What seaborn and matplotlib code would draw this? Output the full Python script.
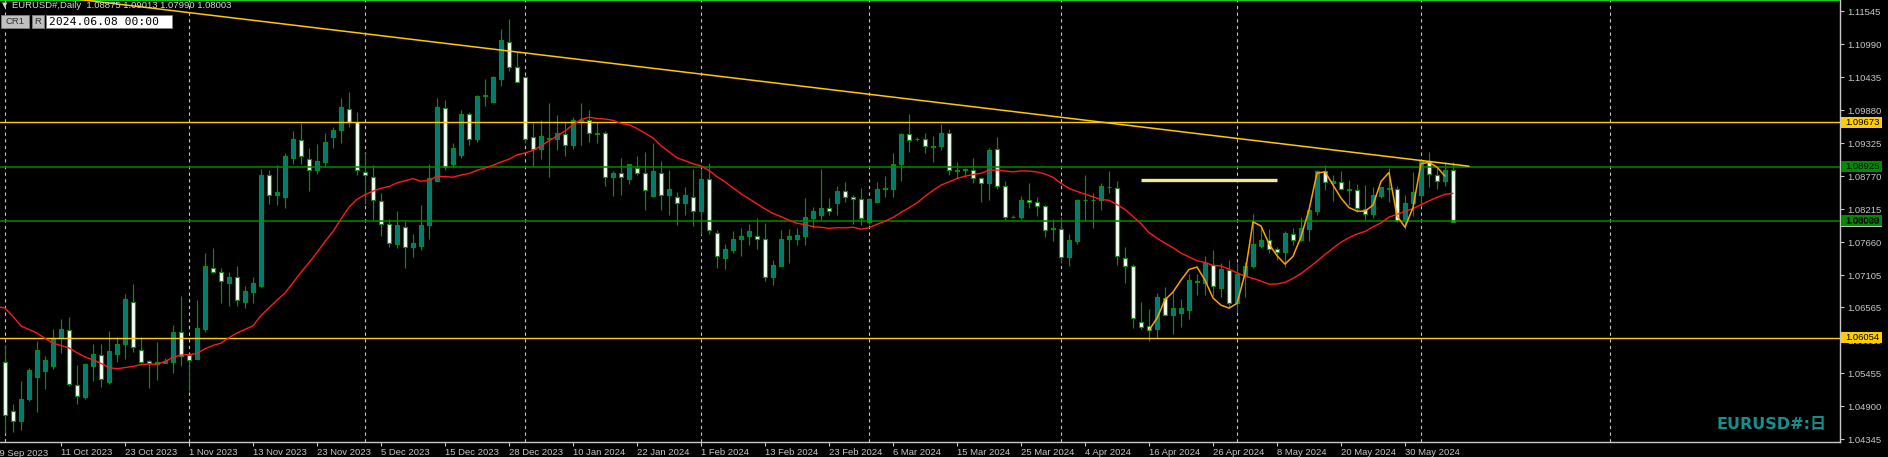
import matplotlib
matplotlib.use('Agg')
import matplotlib.pyplot as plt
import matplotlib.transforms as mtransforms
from matplotlib.patches import Rectangle
import numpy as np
import pandas as pd
import seaborn as sns

# EURUSD daily, 29 Sep 2023 .. 7 Jun 2024 (bar index 0..182, MT4 incl. sunday bars)
opens = [1.0567, 1.0565, 1.0482, 1.0466, 1.0502, 1.0540, 1.0550, 1.0557, 1.0604, 1.0619,
         1.0525, 1.0506, 1.0558, 1.0576, 1.0531, 1.0578, 1.0594, 1.0665, 1.0584, 1.0566,
         1.0561, 1.0562, 1.0565, 1.0614, 1.0576, 1.0569, 1.0620, 1.0722, 1.0715, 1.0698,
         1.0708, 1.0665, 1.0682, 1.0693, 1.0878, 1.0846, 1.0841, 1.0908, 1.0937, 1.0906,
         1.0888, 1.0901, 1.0943, 1.0954, 1.0989, 1.0968, 1.0883, 1.0875, 1.0835, 1.0796,
         1.0762, 1.0791, 1.0758, 1.0760, 1.0794, 1.0869, 1.0991, 1.0898, 1.0913, 1.0981,
         1.0939, 1.1011, 1.1002, 1.1041, 1.1102, 1.1061, 1.1043, 1.0942, 1.0922, 1.0940,
         1.0940, 1.0948, 1.0930, 1.0969, 1.0972, 1.0947, 1.0949, 1.0875, 1.0882, 1.0872,
         1.0890, 1.0882, 1.0844, 1.0882, 1.0846, 1.0841, 1.0831, 1.0841, 1.0818, 1.0872,
         1.0782, 1.0740, 1.0752, 1.0771, 1.0777, 1.0776, 1.0771, 1.0708, 1.0725, 1.0772,
         1.0772, 1.0777, 1.0807, 1.0812, 1.0823, 1.0831, 1.0852, 1.0841, 1.0838, 1.0799,
         1.0833, 1.0855, 1.0856, 1.0898, 1.0947, 1.0940, 1.0940, 1.0926, 1.0927, 1.0949,
         1.0887, 1.0888, 1.0888, 1.0873, 1.0866, 1.0922, 1.0861, 1.0808, 1.0808, 1.0836,
         1.0833, 1.0826, 1.0788, 1.0788, 1.0741, 1.0768, 1.0836, 1.0837, 1.0836, 1.0858,
         1.0857, 1.0740, 1.0726, 1.0631, 1.0625, 1.0620, 1.0672, 1.0643, 1.0647, 1.0651,
         1.0700, 1.0698, 1.0728, 1.0688, 1.0719, 1.0664, 1.0709, 1.0725, 1.0760, 1.0769,
         1.0754, 1.0749, 1.0779, 1.0769, 1.0788, 1.0819, 1.0885, 1.0866, 1.0867, 1.0853,
         1.0853, 1.0822, 1.0814, 1.0844, 1.0856, 1.0856, 1.0801, 1.0831, 1.0846, 1.0903,
         1.0878, 1.0868, 1.08875]
highs = [1.0609, 1.0593, 1.0494, 1.0533, 1.0554, 1.0600, 1.0575, 1.0620, 1.0636, 1.0640,
         1.0559, 1.0563, 1.0595, 1.0595, 1.0617, 1.0607, 1.0679, 1.0696, 1.0607, 1.0567,
         1.0598, 1.0571, 1.0626, 1.0675, 1.0576, 1.0669, 1.0748, 1.0756, 1.0723, 1.0715,
         1.0726, 1.0693, 1.0707, 1.0889, 1.0887, 1.0896, 1.0915, 1.0953, 1.0967, 1.0924,
         1.0931, 1.0949, 1.0959, 1.1009, 1.1018, 1.0985, 1.0915, 1.0896, 1.0848, 1.0804,
         1.0819, 1.0802, 1.0779, 1.0828, 1.0897, 1.1009, 1.1005, 1.0932, 1.0988, 1.0984,
         1.1013, 1.1040, 1.1045, 1.1124, 1.1141, 1.1085, 1.1046, 1.0966, 1.0972, 1.0999,
         1.0980, 1.0968, 1.0976, 1.0999, 1.0988, 1.0968, 1.0952, 1.0886, 1.0907, 1.0898,
         1.0911, 1.0917, 1.0933, 1.0902, 1.0887, 1.0850, 1.0859, 1.0889, 1.0889, 1.0899,
         1.0786, 1.0763, 1.0785, 1.0790, 1.0796, 1.0806, 1.0798, 1.0736, 1.0786, 1.0788,
         1.0790, 1.0840, 1.0825, 1.0889, 1.0840, 1.0860, 1.0867, 1.0846, 1.0857, 1.0840,
         1.0867, 1.0877, 1.0915, 1.0949, 1.0982, 1.0943, 1.0949, 1.0944, 1.0965, 1.0956,
         1.0901, 1.0890, 1.0907, 1.0876, 1.0925, 1.0942, 1.0869, 1.0811, 1.0843, 1.0865,
         1.0841, 1.0828, 1.0805, 1.0809, 1.0780, 1.0838, 1.0878, 1.0848, 1.0865, 1.0886,
         1.0868, 1.0758, 1.0729, 1.0665, 1.0654, 1.0681, 1.0690, 1.0682, 1.0670, 1.0712,
         1.0713, 1.0742, 1.0753, 1.0730, 1.0736, 1.0730, 1.0733, 1.0813, 1.0792, 1.0788,
         1.0758, 1.0785, 1.0790, 1.0808, 1.0826, 1.0887, 1.0896, 1.0879, 1.0886, 1.0870,
         1.0864, 1.0862, 1.0858, 1.0859, 1.0890, 1.0860, 1.0845, 1.0883, 1.0905, 1.0917,
         1.0890, 1.0901, 1.09013]
lows = [1.0536, 1.0445, 1.0447, 1.0450, 1.0499, 1.0481, 1.0519, 1.0553, 1.0580, 1.0524,
        1.0494, 1.0503, 1.0533, 1.0523, 1.0527, 1.0565, 1.0569, 1.0582, 1.0563, 1.0521,
        1.0534, 1.0562, 1.0546, 1.0557, 1.0516, 1.0569, 1.0614, 1.0714, 1.0664, 1.0659,
        1.0659, 1.0656, 1.0664, 1.0691, 1.0830, 1.0828, 1.0824, 1.0898, 1.0898, 1.0852,
        1.0880, 1.0893, 1.0925, 1.0933, 1.0960, 1.0879, 1.0830, 1.0803, 1.0777, 1.0758,
        1.0756, 1.0723, 1.0741, 1.0753, 1.0771, 1.0869, 1.0887, 1.0891, 1.0907, 1.0930,
        1.0934, 1.0994, 1.1002, 1.1028, 1.1054, 1.1035, 1.0932, 1.0894, 1.0906, 1.0876,
        1.0921, 1.0910, 1.0923, 1.0929, 1.0935, 1.0933, 1.0861, 1.0844, 1.0846, 1.0864,
        1.0879, 1.0820, 1.0842, 1.0820, 1.0812, 1.0795, 1.0812, 1.0793, 1.0780, 1.0780,
        1.0723, 1.0721, 1.0748, 1.0742, 1.0761, 1.0755, 1.0700, 1.0694, 1.0725, 1.0731,
        1.0761, 1.0761, 1.0789, 1.0803, 1.0812, 1.0812, 1.0833, 1.0797, 1.0794, 1.0796,
        1.0833, 1.0841, 1.0842, 1.0868, 1.0918, 1.0936, 1.0915, 1.0901, 1.0920, 1.0878,
        1.0873, 1.0876, 1.0866, 1.0834, 1.0836, 1.0855, 1.0803, 1.0808, 1.0804, 1.0824,
        1.0810, 1.0775, 1.0768, 1.0730, 1.0725, 1.0763, 1.0802, 1.0790, 1.0820, 1.0848,
        1.0728, 1.0698, 1.0622, 1.0620, 1.0600, 1.0604, 1.0641, 1.0611, 1.0624, 1.0637,
        1.0677, 1.0677, 1.0675, 1.0674, 1.0655, 1.0649, 1.0674, 1.0722, 1.0756, 1.0747,
        1.0736, 1.0724, 1.0761, 1.0767, 1.0767, 1.0812, 1.0854, 1.0835, 1.0854, 1.0828,
        1.0817, 1.0803, 1.0806, 1.0840, 1.0834, 1.0799, 1.0788, 1.0810, 1.0827, 1.0859,
        1.0855, 1.0860, 1.07990]
closes = [1.0573, 1.0476, 1.0466, 1.0503, 1.0551, 1.0585, 1.0568, 1.0605, 1.0620, 1.0527,
          1.0508, 1.0561, 1.0578, 1.0536, 1.0583, 1.0595, 1.0670, 1.0589, 1.0565, 1.0562,
          1.0564, 1.0566, 1.0614, 1.0575, 1.0568, 1.0621, 1.0725, 1.0716, 1.0700, 1.0708,
          1.0668, 1.0684, 1.0697, 1.0879, 1.0846, 1.0851, 1.0910, 1.0940, 1.0910, 1.0888,
          1.0902, 1.0935, 1.0954, 1.0993, 1.0968, 1.0887, 1.0878, 1.0836, 1.0796, 1.0764,
          1.0794, 1.0757, 1.0764, 1.0794, 1.0873, 1.0993, 1.0893, 1.0924, 1.0981, 1.0939,
          1.1011, 1.1013, 1.1043, 1.1105, 1.1061, 1.1035, 1.0940, 1.0922, 1.0944, 1.0941,
          1.0950, 1.0930, 1.0972, 1.0972, 1.0949, 1.0950, 1.0875, 1.0882, 1.0875, 1.0897,
          1.0882, 1.0853, 1.0886, 1.0846, 1.0855, 1.0831, 1.0845, 1.0818, 1.0872, 1.0786,
          1.0742, 1.0754, 1.0771, 1.0777, 1.0784, 1.0772, 1.0708, 1.0727, 1.0772, 1.0776,
          1.0778, 1.0808, 1.0818, 1.0823, 1.0819, 1.0852, 1.0842, 1.0838, 1.0806, 1.0838,
          1.0856, 1.0857, 1.0898, 1.0947, 1.0937, 1.0940, 1.0927, 1.0927, 1.0949, 1.0887,
          1.0886, 1.0889, 1.0873, 1.0866, 1.0921, 1.0861, 1.0808, 1.0809, 1.0837, 1.0833,
          1.0826, 1.0787, 1.0789, 1.0741, 1.0770, 1.0837, 1.0837, 1.0836, 1.0860, 1.0859,
          1.0742, 1.0725, 1.0639, 1.0624, 1.0618, 1.0673, 1.0643, 1.0656, 1.0655, 1.0702,
          1.0699, 1.0730, 1.0692, 1.0720, 1.0664, 1.0712, 1.0725, 1.0762, 1.0769, 1.0754,
          1.0749, 1.0782, 1.0769, 1.0789, 1.0820, 1.0886, 1.0867, 1.0869, 1.0856, 1.0855,
          1.0823, 1.0814, 1.0845, 1.0858, 1.0857, 1.0801, 1.0831, 1.0850, 1.0903, 1.0880,
          1.0868, 1.0888, 1.08003]

# red MA (20) for the first bars (history before the window)
ma_head = [1.0658, 1.0655, 1.0641, 1.0625, 1.0619, 1.0613, 1.0604, 1.0596, 1.0592, 1.0588,
           1.0580, 1.0573, 1.0568, 1.0562, 1.0555, 1.0553, 1.0555, 1.0557, 1.0560]

# orange swing curve, bars 144..181
orange_start = 144
orange_vals = [1.0618, 1.0638, 1.0669, 1.0682, 1.0702, 1.0720, 1.0724, 1.0702, 1.0672, 1.0660,
               1.0655, 1.0663, 1.0713, 1.0800, 1.0793, 1.0763, 1.0743, 1.0729, 1.0742, 1.0775,
               1.0820, 1.0882, 1.0884, 1.0862, 1.0840, 1.0824, 1.0818, 1.0818, 1.0828, 1.0868,
               1.0883, 1.0810, 1.0791, 1.0824, 1.0898, 1.0900, 1.0892, 1.0877]

date_labels = ['29 Sep 2023', '11 Oct 2023', '23 Oct 2023', '1 Nov 2023', '13 Nov 2023',
               '23 Nov 2023', '5 Dec 2023', '15 Dec 2023', '28 Dec 2023', '10 Jan 2024',
               '22 Jan 2024', '1 Feb 2024', '13 Feb 2024', '23 Feb 2024', '6 Mar 2024',
               '15 Mar 2024', '25 Mar 2024', '4 Apr 2024', '16 Apr 2024', '26 Apr 2024',
               '8 May 2024', '20 May 2024', '30 May 2024']
price_ticks = [1.11545, 1.10990, 1.10435, 1.09880, 1.09325, 1.08770, 1.08215, 1.07660,
               1.07105, 1.06565, 1.06010, 1.05455, 1.04900, 1.04345]

gold_levels = [1.09673, 1.06054]
green_levels = [1.08925, 1.08020]
last_price = 1.08003
month_bars = [1, 24, 46, 66, 88, 109, 133, 155, 178, 201.6]
trend_x = [10, 184]
trend_y = [1.11744, 1.08935]
seg_x = [143, 160]
seg_y = 1.0870

W, H = 1888, 457


def fpos(x, y):
    return x / W, 1 - y / H


sns.set_theme(style='dark')
plt.rcParams['font.family'] = ['Liberation Sans', 'DejaVu Sans', 'Noto Sans CJK JP']

df = pd.DataFrame({'o': opens, 'h': highs, 'l': lows, 'c': closes})
df['i'] = np.arange(len(df))
df['bull'] = df['c'] >= df['o']
ma = df['c'].rolling(20).mean()
ma.iloc[:len(ma_head)] = ma_head
df['ma'] = ma

fig = plt.figure(figsize=(W / 100, H / 100), dpi=100, facecolor='black')
ax = fig.add_axes([0, 15 / H, 1840 / W, 442 / H])
ax.set_facecolor('black')

wick = '#0a8f0a'
for g in month_bars:
    ax.axvline(g, color='#c4c4c4', lw=0.8, ls=(0, (3, 3)), zorder=0.5)

ax.vlines(df['i'], df['l'], df['h'], color=wick, lw=0.85, zorder=2)
body_lo = df[['o', 'c']].min(axis=1)
body_h = (df['c'] - df['o']).abs()
fills = np.where(df['bull'], '#027878', '#ffffff')
ax.bar(df['i'], body_h, bottom=body_lo, width=0.58, color=fills,
       edgecolor=wick, linewidth=0.85, zorder=2.2)

for lv in gold_levels:
    ax.axhline(lv, color='#ffcc00', lw=1.0, zorder=3)
for lv in green_levels:
    ax.axhline(lv, color='#008a00', lw=1.1, zorder=3)
ax.axhline(1.11725, color='#1ec81e', lw=1.6, zorder=3)

ax.plot(trend_x, trend_y, color='#ffc800', lw=1.1, zorder=3.2)
ax.hlines(seg_y, seg_x[0], seg_x[1], color='#f2e9a0', lw=2.4, zorder=3.2)

sns.lineplot(x=df['i'], y=df['ma'], color='#ff1a1a', linewidth=1.0,
             estimator=None, ax=ax, zorder=3.5)
sns.lineplot(x=np.arange(orange_start, orange_start + len(orange_vals)), y=orange_vals,
             color='#ffa000', linewidth=1.1, estimator=None, ax=ax, zorder=3.6)

ax.set_xlim(0.375, 230.375)
ax.set_ylim(1.04299, 1.11730)
ax.set_xlabel('')
ax.set_ylabel('')
ax.grid(False)

ax.yaxis.tick_right()
ax.set_yticks(price_ticks)
ax.set_yticklabels([f'{v:.5f}' for v in price_ticks])
# the first date sits partly left of the chart edge, drawn separately below
ax.set_xticks(np.arange(8, 8 * len(date_labels), 8))
ax.set_xticklabels(date_labels[1:])
for lab in ax.get_xticklabels():
    lab.set_ha('left')
ax.tick_params(axis='y', which='both', right=True, left=False, length=3, width=0.8,
               color='#c8c8c8', labelcolor='#c8c8c8', labelsize=6.8, pad=2, direction='out')
ax.tick_params(axis='x', which='both', bottom=True, length=3, width=0.8,
               color='#c8c8c8', labelcolor='#c8c8c8', labelsize=6.8, pad=1.5, direction='out')
for side in ['top', 'left']:
    ax.spines[side].set_visible(False)
for side in ['bottom', 'right']:
    ax.spines[side].set_visible(True)
    ax.spines[side].set_color('#c8c8c8')
    ax.spines[side].set_linewidth(1.0)

fig.text(*fpos(-5.5, 449), date_labels[0], fontsize=6.8, color='#c8c8c8', va='top')

# price labels on the right scale
tr = mtransforms.blended_transform_factory(fig.transFigure, ax.transData)
box_h = 11 * 0.00016811


def price_box(p, face, txtcol='black'):
    ax.add_patch(Rectangle((1841 / W, p - box_h / 2), 41 / W, box_h, transform=tr,
                           facecolor=face, edgecolor='none', clip_on=False, zorder=10))
    ax.text(1862 / W, p, f'{p:.5f}', transform=tr, ha='center', va='center',
            fontsize=6.8, color=txtcol, clip_on=False, zorder=11)


price_box(last_price, '#c0c0c0')
for lv in green_levels:
    price_box(lv, '#008a00')
for lv in gold_levels:
    price_box(lv, '#ffcc00')

# header
fig.text(*fpos(2, 5.5), '\u25bc', fontsize=5, color='#d8d8d8', va='center', family='DejaVu Sans')
fig.text(*fpos(12, 5.5), 'EURUSD#,Daily  1.08875 1.09013 1.07990 1.08003',
         fontsize=6.8, color='#d8d8d8', va='center')

for (x0, x1, label) in [(1, 29, 'CR1'), (32, 44, 'R')]:
    fig.patches.append(Rectangle(fpos(x0, 28), (x1 - x0) / W, 12.5 / H, transform=fig.transFigure,
                                 facecolor='#c0c0c0', edgecolor='#808080', lw=0.6))
    fig.text(*fpos((x0 + x1) / 2, 21.7), label, fontsize=6.8, color='#303030',
             ha='center', va='center')
fig.patches.append(Rectangle(fpos(46, 28), 126 / W, 12.5 / H, transform=fig.transFigure,
                             facecolor='white', edgecolor='#808080', lw=0.6))
fig.text(*fpos(49, 21.7), '2024.06.08 00:00', fontsize=8.2, color='black',
         va='center', family='DejaVu Sans Mono')

fig.text(*fpos(1827, 424), 'EURUSD#:日', ha='right', va='center', color='#178f8f',
         fontsize=11.5, fontweight='bold', family=['DejaVu Sans', 'Noto Sans CJK JP'])

fig.savefig('out.png', dpi=100, facecolor='black')
